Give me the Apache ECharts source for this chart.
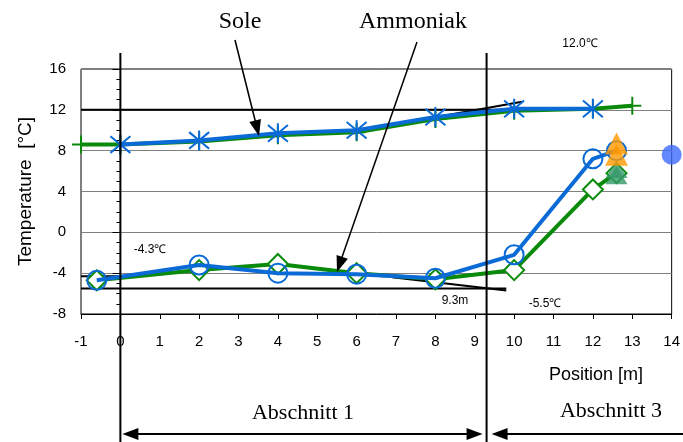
<!DOCTYPE html>
<html><head><meta charset="utf-8">
<script src="https://cdn.jsdelivr.net/npm/echarts@6/dist/echarts.min.js"></script>
<style>html,body{margin:0;padding:0;background:#fff}#c{width:683px;height:442px}</style>
</head><body><div id="c"></div>
<script>
// ---- data ----
const soleBlueX = [0, 2, 4, 6, 8, 10, 12];
const soleBlueY = [8.6, 9.0, 9.7, 10.0, 11.3, 12.1, 12.1];
const soleGreenX = [-1, 0, 2, 4, 6, 8, 10, 12, 13];
const soleGreenY = [8.6, 8.6, 8.9, 9.5, 9.8, 11.1, 11.9, 12.1, 12.4];
const ammBlueX = [-0.6, 2, 4, 6, 8, 10, 12, 12.6];
const ammBlueY = [-4.7, -3.2, -4.0, -4.1, -4.5, -2.2, 7.2, 8.0];
const ammGreenX = [-0.6, 2, 4, 6, 8, 10, 12, 12.6];
const ammGreenY = [-4.7, -3.7, -3.1, -4.0, -4.6, -3.7, 4.2, 5.8];
const orangeX = [12.6, 12.6];
const orangeY = [8.7, 7.6];
const tealX = [12.6, 12.6];
const tealY = [6.2, 5.6];
const dotX = [14];
const dotY = [7.6];
// reference lines (x pairs, y pairs)
const ref12X = [-1, 10.3], ref12Y = [12.0, 12.0];
const tanSoleX = [6, 10.2], tanSoleY = [9.9, 12.8];
const ref43X = [-1, 0.5], ref43Y = [-4.3, -4.3];
const ref55X = [-1, 9.8], ref55Y = [-5.5, -5.5];
const tanAmmX = [6.9, 9.8], tanAmmY = [-4.4, -5.7];
const sectionX = [0, 9.3];
const xMin = -1, xMax = 14, yMin = -8, yMax = 16;

const zip = (xs, ys) => xs.map((x, i) => [x, ys[i]]);
const BLUE = '#0a6bd6', GREEN = '#0a8a0a';
const asterisk = 'path://M0,0L10,10M10,0L0,10M5,-1L5,11';
const plus = 'path://M5,0L5,10M0,5L10,5';

const chart = echarts.init(document.getElementById('c'), null, {renderer: 'canvas'});
const refLine = (xs, ys, w) => ({
  type: 'line', data: zip(xs, ys), symbol: 'none', silent: true, z: 1,
  lineStyle: {color: '#000', width: w}, animation: false
});
chart.setOption({
  animation: false,
  grid: {left: 81, right: 6, top: 69, bottom: 128, show: true, borderColor: '#000', borderWidth: 1},
  xAxis: {
    type: 'value', min: xMin, max: xMax, interval: 1,
    axisLine: {onZero: false, lineStyle: {color: '#000'}},
    axisTick: {length: 5, lineStyle: {color: '#000'}},
    axisLabel: {color: '#000', fontSize: 15, fontFamily: 'Liberation Sans', margin: 20},
    splitLine: {show: false}
  },
  yAxis: {
    type: 'value', min: yMin, max: yMax, interval: 4,
    name: 'Temperature  [°C]', nameLocation: 'middle', nameRotate: 90, nameGap: 46,
    nameTextStyle: {fontSize: 19, fontFamily: 'Liberation Sans', color: '#000'},
    axisLine: {show: true, lineStyle: {color: '#000'}},
    axisTick: {length: 8, lineStyle: {color: '#000'}},
    minorTick: {show: true, splitNumber: 4, length: 4, lineStyle: {color: '#000'}},
    axisLabel: {color: '#000', fontSize: 15, fontFamily: 'Liberation Sans', margin: 15},
    splitLine: {show: true, lineStyle: {color: '#808080', width: 1}}
  },
  series: [
    refLine(ref12X, ref12Y, 2),
    refLine(ref43X, ref43Y, 2),
    refLine(ref55X, ref55Y, 2),
    {type: 'line', name: 'SoleGreen', data: zip(soleGreenX, soleGreenY), z: 3,
      lineStyle: {color: GREEN, width: 4}, symbol: plus, symbolSize: 18,
      itemStyle: {color: 'none', borderColor: GREEN, borderWidth: 2}, showSymbol: true},
    {type: 'line', name: 'SoleBlue', data: zip(soleBlueX, soleBlueY), z: 4,
      lineStyle: {color: BLUE, width: 4}, symbol: asterisk, symbolSize: 20,
      itemStyle: {color: 'none', borderColor: BLUE, borderWidth: 2}},
    {type: 'line', name: 'AmmGreen', data: zip(ammGreenX, ammGreenY), z: 3,
      lineStyle: {color: GREEN, width: 4}, symbol: 'diamond', symbolSize: 20,
      itemStyle: {color: '#fff', borderColor: GREEN, borderWidth: 2}},
    {type: 'line', name: 'AmmBlue', data: zip(ammBlueX, ammBlueY), z: 4,
      lineStyle: {color: BLUE, width: 4}, symbol: 'circle', symbolSize: 19,
      itemStyle: {color: 'none', borderColor: BLUE, borderWidth: 2}},
    refLine(tanSoleX, tanSoleY, 2),
    refLine(tanAmmX, tanAmmY, 2),
    {type: 'scatter', data: zip(tealX, tealY), symbol: 'triangle', symbolSize: [22, 18], z: 6,
      itemStyle: {color: '#339966'}},
    {type: 'scatter', data: zip(orangeX, orangeY), symbol: 'triangle', symbolSize: [23, 22], z: 7,
      itemStyle: {color: '#ff9900'}},
    {type: 'scatter', data: zip(dotX, dotY), symbol: 'circle', symbolSize: 20, z: 7, clip: false,
      itemStyle: {color: '#3d6bff'}}
  ]
});

function px(x, y) { return chart.convertToPixel({gridIndex: 0}, [x, y]); }
function arrowHead(tipX, tipY, fromX, fromY, len, half) {
  const dx = tipX - fromX, dy = tipY - fromY, L = Math.hypot(dx, dy);
  const ux = dx / L, uy = dy / L, bx = tipX - ux * len, by = tipY - uy * len;
  return {type: 'polygon', shape: {points: [[tipX, tipY], [bx - uy * half, by + ux * half], [bx + uy * half, by - ux * half]]},
    style: {fill: '#000'}, z: 100};
}
function seg(x1, y1, x2, y2, w) {
  return {type: 'line', shape: {x1, y1, x2, y2}, style: {stroke: '#000', lineWidth: w}, z: 100};
}
function txt(x, y, text, size, family, align) {
  return {type: 'text', x, y, z: 100, style: {text, fontSize: size, fontFamily: family, fill: '#000',
    align: align || 'center', verticalAlign: 'middle'}};
}
const g = [];
const s0 = px(sectionX[0], 0)[0], s1 = px(sectionX[1], 0)[0];
g.push(seg(s0, 53, s0, 442, 2), seg(s1, 53, s1, 442, 2));
// sole arrow
g.push(seg(235, 40, 256, 124, 1.5), arrowHead(259, 136, 235, 40, 16, 6));
// ammoniak arrow
g.push(seg(417, 42, 341, 260, 1.5), arrowHead(337, 272, 417, 42, 16, 6));
g.push(txt(240, 22, 'Sole', 24, 'Liberation Serif'), txt(413, 22, 'Ammoniak', 24, 'Liberation Serif'));
g.push(txt(580, 44, '12.0℃', 12, 'Liberation Sans'), txt(150, 250, '-4.3℃', 12, 'Liberation Sans'),
  txt(455, 301, '9.3m', 12, 'Liberation Sans'), txt(545, 304, '-5.5℃', 12, 'Liberation Sans'));
g.push(txt(596, 375, 'Position [m]', 18, 'Liberation Sans'));
g.push(txt(303, 413, 'Abschnitt 1', 22, 'Liberation Serif'), txt(611, 411, 'Abschnitt 3', 22, 'Liberation Serif'));
// section arrows
g.push(seg(s0 + 10, 434, s1 - 10, 434, 2), arrowHead(s0 + 2, 434, s0 + 20, 434, 16, 6), arrowHead(s1 - 4, 434, s1 - 20, 434, 16, 6));
g.push(seg(s1 + 12, 434, 683, 434, 2), arrowHead(s1 + 5, 434, s1 + 20, 434, 16, 6));
chart.setOption({graphic: g});
</script></body></html>
